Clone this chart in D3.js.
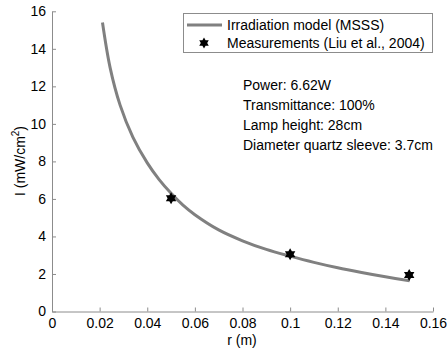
<!DOCTYPE html>
<html><head><meta charset="utf-8">
<script src="https://cdn.jsdelivr.net/npm/d3@7"></script>
<style>body{margin:0;background:#fff}svg{display:block}text{font-family:"Liberation Sans",Arial,sans-serif}</style>
</head><body><div id="c"></div>
<script>
const modelR = [0.0212,0.0244,0.0286,0.034,0.040,0.045,0.050,0.055,0.060,0.070,0.080,0.090,0.100,0.110,0.120,0.130,0.140,0.1502];
const modelI = [15.4,13.0,11.0,9.28,7.92,7.03,6.3,5.67,5.16,4.35,3.77,3.31,2.95,2.62,2.33,2.08,1.85,1.64];
const measR = [0.05,0.10,0.15];
const measI = [6.03,3.05,1.95];
const xTicks = [0,0.02,0.04,0.06,0.08,0.1,0.12,0.14,0.16];
const yTicks = [0,2,4,6,8,10,12,14,16];
const legendLabels = ["Irradiation model (MSSS)","Measurements (Liu et al., 2004)"];
const notes = ["Power: 6.62W","Transmittance: 100%","Lamp height: 28cm","Diameter quartz sleeve: 3.7cm"];

const W=447,H=351;
const svg=d3.select("#c").append("svg").attr("width",W).attr("height",H);
const x=d3.scaleLinear().domain([0,0.16]).range([52,433]);
const y=d3.scaleLinear().domain([0,16]).range([311.5,11.3]);
const axCol="#8c8c8c";

const xa=svg.append("g").attr("transform",`translate(0,${y(0)})`)
  .call(d3.axisBottom(x).tickValues(xTicks).tickFormat(d=>d3.format("~g")(d)).tickSizeInner(-4).tickSizeOuter(0).tickPadding(7));
const ya=svg.append("g").attr("transform",`translate(${x(0)},0)`)
  .call(d3.axisLeft(y).tickValues(yTicks).tickSizeInner(-4).tickSizeOuter(0).tickPadding(6));
[xa,ya].forEach(g=>{g.selectAll("path,line").attr("stroke",axCol);g.selectAll("text").attr("fill","#000").style("font-size","14px").style("font-family","Liberation Sans, Arial, sans-serif");});

svg.append("text").attr("x",242).attr("y",345).attr("text-anchor","middle").style("font-size","14px").text("r (m)");
const yl=svg.append("text").attr("transform","translate(25,161) rotate(-90)").attr("text-anchor","middle").style("font-size","14px");
yl.append("tspan").text("I (mW/cm");
yl.append("tspan").attr("dy",-6).style("font-size","10px").text("2");
yl.append("tspan").attr("dy",6).text(")");

const line=d3.line().x((d,i)=>x(modelR[i])).y((d,i)=>y(modelI[i])).curve(d3.curveCatmullRom.alpha(0.5));
svg.append("path").datum(modelI).attr("d",line).attr("fill","none").attr("stroke","#808080").attr("stroke-width",3);

function hexagram(r){
  const pts=[];
  for(let k=0;k<12;k++){const a=-Math.PI/2+k*Math.PI/6;const rr=k%2?r*0.58:r;pts.push([rr*Math.cos(a),rr*Math.sin(a)]);}
  return "M"+pts.map(p=>p[0].toFixed(2)+","+p[1].toFixed(2)).join("L")+"Z";
}
svg.selectAll(".m").data(measI).enter().append("path")
  .attr("transform",(d,i)=>`translate(${x(measR[i])},${y(d)})`)
  .attr("d",hexagram(6)).attr("fill","#000");

// legend
const lg=svg.append("g");
lg.append("rect").attr("x",183.5).attr("y",13.5).attr("width",249).attr("height",39).attr("fill","#fff").attr("stroke",axCol);
lg.append("line").attr("x1",187).attr("x2",222).attr("y1",25).attr("y2",25).attr("stroke","#808080").attr("stroke-width",3);
lg.append("path").attr("transform","translate(204,43)").attr("d",hexagram(5.5)).attr("fill","#000");
legendLabels.forEach((t,i)=>lg.append("text").attr("x",227).attr("y",30+i*18).style("font-size","14px").text(t));

notes.forEach((t,i)=>svg.append("text").attr("x",243).attr("y",90+i*20).style("font-size","14px").text(t));
</script></body></html>
